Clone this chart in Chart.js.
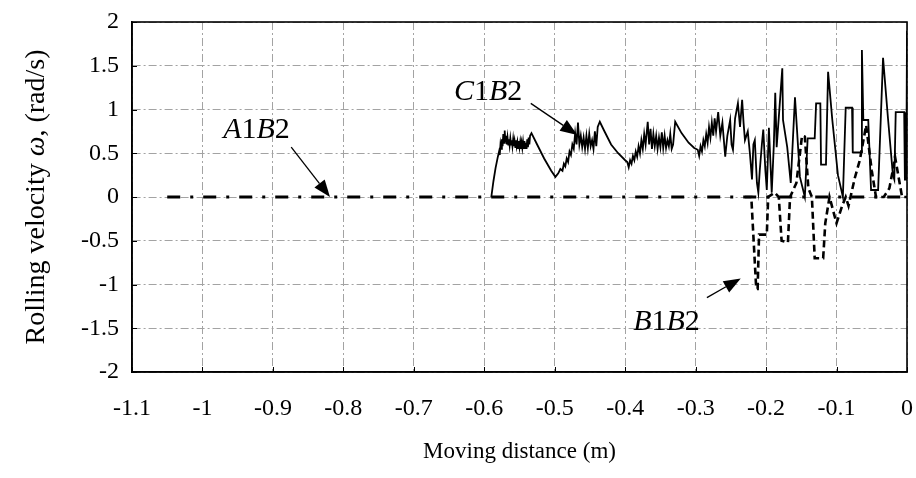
<!DOCTYPE html>
<html>
<head>
<meta charset="utf-8">
<script src="https://cdn.jsdelivr.net/npm/chart.js@4.4.0/dist/chart.umd.min.js"></script>
<style>
  html, body { margin: 0; padding: 0; background: #fff; }
  canvas { display: block; }
</style>
</head>
<body>
<canvas id="myChart" width="916" height="478"></canvas>
<script>
// axis ticks
const xTicks = [-1.1, -1, -0.9, -0.8, -0.7, -0.6, -0.5, -0.4, -0.3, -0.2, -0.1, 0];
const xTickLabels = ['-1.1', '-1', '-0.9', '-0.8', '-0.7', '-0.6', '-0.5', '-0.4', '-0.3', '-0.2', '-0.1', '0'];
const yTicks = [-2, -1.5, -1, -0.5, 0, 0.5, 1, 1.5, 2];
const yTickLabels = ['-2', '-1.5', '-1', '-0.5', '0', '0.5', '1', '1.5', '2'];

// A1B2 stays at zero
const a1b2X = [-1.05, 0];
const a1b2Y = [0, 0];

// C1B2 (solid)
const c1b2X = [
  -0.590, -0.587, -0.584, -0.581, -0.579, -0.578, -0.577, -0.576, -0.575, -0.574, -0.573, -0.572,
  -0.571, -0.570, -0.569, -0.568, -0.567, -0.566, -0.565, -0.564, -0.563, -0.562, -0.561, -0.560,
  -0.559, -0.558, -0.557, -0.556, -0.555, -0.554, -0.553, -0.552, -0.551, -0.550, -0.549, -0.548,
  -0.547, -0.546, -0.545, -0.544, -0.543, -0.542, -0.541, -0.540, -0.539, -0.538, -0.537, -0.536,
  -0.535, -0.533,
  -0.525, -0.515, -0.505, -0.499,
  -0.495, -0.492, -0.489, -0.487, -0.485, -0.483, -0.481, -0.479, -0.477, -0.475, -0.473, -0.471,
  -0.469, -0.467, -0.465, -0.463, -0.461, -0.459, -0.457, -0.455, -0.453, -0.451, -0.449, -0.447,
  -0.445, -0.443, -0.441, -0.439, -0.436,
  -0.430, -0.420, -0.410, -0.400,
  -0.397, -0.395, -0.393, -0.391, -0.389, -0.387, -0.385, -0.383, -0.381, -0.379, -0.377, -0.375,
  -0.373, -0.371, -0.368,
  -0.366, -0.364, -0.362, -0.360, -0.358, -0.356, -0.354, -0.352, -0.350, -0.348, -0.346, -0.344,
  -0.342, -0.340, -0.338, -0.336, -0.334, -0.332, -0.329,
  -0.320, -0.310, -0.302, -0.297, -0.295,
  -0.293, -0.291, -0.289, -0.287, -0.285, -0.283, -0.281, -0.279, -0.277, -0.275, -0.273, -0.271, -0.268,
  -0.265, -0.262, -0.258, -0.255, -0.251, -0.249, -0.247, -0.244, -0.240, -0.237, -0.234, -0.232,
  -0.230, -0.226, -0.223, -0.220, -0.218, -0.216, -0.213, -0.211, -0.209, -0.206, -0.204, -0.201,
  -0.199, -0.196, -0.192, -0.189, -0.187, -0.185,
  -0.177, -0.176, -0.170, -0.165, -0.159, -0.152, -0.145, -0.141, -0.131, -0.129, -0.123, -0.122,
  -0.115, -0.112, -0.106, -0.098, -0.091, -0.087, -0.078, -0.077, -0.065, -0.064, -0.062, -0.055,
  -0.051, -0.041, -0.034, -0.027, -0.020, -0.018, -0.016, -0.004, -0.003, -0.001, 0
];
const c1b2Y = [
  0, 0.18, 0.33, 0.45, 0.52, 0.48, 0.6, 0.55, 0.66, 0.58, 0.72, 0.62,
  0.76, 0.63, 0.7, 0.6, 0.68, 0.6, 0.66, 0.59, 0.67, 0.6, 0.65, 0.58,
  0.66, 0.58, 0.64, 0.57, 0.65, 0.58, 0.63, 0.56, 0.64, 0.57, 0.63, 0.55,
  0.62, 0.56, 0.63, 0.55, 0.64, 0.56, 0.62, 0.55, 0.66, 0.57, 0.68, 0.6,
  0.7, 0.73,
  0.6, 0.44, 0.3, 0.23,
  0.27, 0.32, 0.3, 0.38, 0.35, 0.44, 0.4, 0.52, 0.48, 0.6, 0.55, 0.73,
  0.6, 0.85, 0.6, 0.7, 0.57, 0.68, 0.55, 0.7, 0.56, 0.72, 0.58, 0.65,
  0.55, 0.75, 0.58, 0.8, 0.86,
  0.76, 0.6, 0.5, 0.42,
  0.4, 0.34, 0.42, 0.38, 0.47, 0.42, 0.52, 0.46, 0.58, 0.5, 0.65, 0.55,
  0.72, 0.6, 0.86,
  0.6, 0.78, 0.55, 0.72, 0.58, 0.7, 0.55, 0.68, 0.57, 0.74, 0.56, 0.7,
  0.56, 0.65, 0.58, 0.72, 0.55, 0.6, 0.86,
  0.73, 0.62, 0.56, 0.54, 0.47,
  0.58, 0.52, 0.65, 0.58, 0.72, 0.62, 0.8, 0.68, 0.85, 0.7, 0.9, 0.75, 0.97,
  0.7, 0.85, 0.46, 0.7, 0.88, 0.6, 0.54, 0.9, 1.07, 0.8, 1.11, 0.85,
  0.65, 0.75, 0.5, 0.2, 0.6, 0.65, 0.16, 0.05, 0.3, 0.6, 0.77, 0.3,
  0.08, 0.79, 0.05, 0.6, 1.19, 0.57,
  1.47, 0.88, 0.57, 0.16, 1.14, 0.23, 0, 0.67, 0.67, 1.07, 1.07, 0.37,
  0.37, 1.43, 0.88, 0.25, 0, 1.02, 1.02, 0.51, 0.51, 1.68, 0.88, 0.88,
  0.08, 0.08, 1.59, 0.9, 0.25, 0.2, 0.97, 0.97, 0.2, 0.2, 1.9
];

// B1B2 (dashed)
const b1b2X = [
  -0.230, -0.221, -0.217, -0.214, -0.212, -0.210, -0.199, -0.197, -0.188, -0.182, -0.178, -0.169,
  -0.166, -0.157, -0.149, -0.145, -0.140, -0.135, -0.131, -0.119, -0.116, -0.110, -0.100, -0.092,
  -0.087, -0.083, -0.074, -0.067, -0.058, -0.050, -0.044, -0.033, -0.025, -0.021, -0.017, -0.012,
  -0.007, 0
];
const b1b2Y = [
  0, 0, -0.6, -1.05, -1.05, -0.43, -0.43, 0, 0.05, 0, -0.5, -0.52,
  0, 0.16, 0.7, 0.69, 0.1, 0, -0.7, -0.7, -0.3, 0, -0.3, -0.1,
  0, -0.1, 0.22, 0.42, 0.82, 0.3, 0, 0, 0.1, 0.27, 0.46, 0.23,
  0, 0
];

const SERIF = '"Liberation Serif", "Times New Roman", serif';

// labels with arrows, in data units
const notes = [
  { parts: [['A', true], ['1', false], ['B', true], ['2', false]], tx: -0.876, ty: 0.77, from: [-0.874, 0.57], to: [-0.819, 0] },
  { parts: [['C', true], ['1', false], ['B', true], ['2', false]], tx: -0.546, ty: 1.2, from: [-0.534, 1.07], to: [-0.468, 0.71] },
  { parts: [['B', true], ['1', false], ['B', true], ['2', false]], tx: -0.294, ty: -1.43, from: [-0.284, -1.15], to: [-0.236, -0.93] }
];

const toPoints = (xs, ys) => xs.map((x, i) => ({ x: x, y: ys[i] }));

function richText(ctx, parts, x, y, size, align) {
  const widths = parts.map(p => {
    ctx.font = (p[1] ? 'italic ' : '') + size + 'px ' + SERIF;
    return ctx.measureText(p[0]).width;
  });
  const total = widths.reduce((a, b) => a + b, 0);
  let cx = align === 'right' ? x - total : (align === 'center' ? x - total / 2 : x);
  ctx.textAlign = 'left';
  ctx.textBaseline = 'middle';
  parts.forEach((p, i) => {
    ctx.font = (p[1] ? 'italic ' : '') + size + 'px ' + SERIF;
    ctx.fillText(p[0], cx, y);
    cx += widths[i];
  });
}

function arrow(ctx, x1, y1, x2, y2) {
  const ang = Math.atan2(y2 - y1, x2 - x1);
  const len = 17, hw = 6.5;
  const bx = x2 - len * Math.cos(ang), by = y2 - len * Math.sin(ang);
  ctx.beginPath();
  ctx.moveTo(x1, y1);
  ctx.lineTo(bx, by);
  ctx.lineWidth = 1.3;
  ctx.stroke();
  ctx.beginPath();
  ctx.moveTo(x2, y2);
  ctx.lineTo(bx + hw * Math.sin(ang), by - hw * Math.cos(ang));
  ctx.lineTo(bx - hw * Math.sin(ang), by + hw * Math.cos(ang));
  ctx.closePath();
  ctx.fill();
}

const decor = {
  id: 'decor',
  afterDraw(chart) {
    const ctx = chart.ctx;
    const a = chart.chartArea;
    const xs = chart.scales.x, ys = chart.scales.y;
    ctx.save();
    ctx.strokeStyle = '#000';
    ctx.fillStyle = '#000';
    ctx.setLineDash([]);

    // frame
    ctx.lineWidth = 1.6;
    ctx.strokeRect(a.left, a.top, a.right - a.left, a.bottom - a.top);

    // inward tick marks
    ctx.lineWidth = 1;
    ctx.beginPath();
    xTicks.forEach(v => {
      const px = Math.round(xs.getPixelForValue(v)) + 0.5;
      ctx.moveTo(px, a.bottom);
      ctx.lineTo(px, a.bottom - 5);
    });
    yTicks.forEach(v => {
      const py = Math.round(ys.getPixelForValue(v)) + 0.5;
      ctx.moveTo(a.left, py);
      ctx.lineTo(a.left + 5, py);
    });
    ctx.stroke();

    // axis titles
    richText(ctx, [['Moving distance (m)', false]], (a.left + a.right) / 2, 452, 23, 'center');
    ctx.save();
    ctx.translate(37, (a.top + a.bottom) / 2);
    ctx.rotate(-Math.PI / 2);
    richText(ctx, [['Rolling velocity ', false], ['\u03c9', true], [', (rad/s)', false]], 0, 0, 28, 'center');
    ctx.restore();

    // series labels
    notes.forEach(n => {
      richText(ctx, n.parts, xs.getPixelForValue(n.tx), ys.getPixelForValue(n.ty), 30, 'right');
      arrow(ctx, xs.getPixelForValue(n.from[0]), ys.getPixelForValue(n.from[1]),
        xs.getPixelForValue(n.to[0]), ys.getPixelForValue(n.to[1]));
    });
    ctx.restore();
  }
};

const gridStyle = { color: '#a3a3a3', lineWidth: 1, drawTicks: false };
const tickFont = { family: SERIF, size: 24 };

new Chart(document.getElementById('myChart').getContext('2d'), {
  type: 'line',
  data: {
    datasets: [
      {
        label: 'C1B2',
        data: toPoints(c1b2X, c1b2Y),
        borderColor: '#000',
        borderWidth: 1.8,
        pointRadius: 0,
        tension: 0,
        order: 1
      },
      {
        label: 'B1B2',
        data: toPoints(b1b2X, b1b2Y),
        borderColor: '#000',
        borderWidth: 2.6,
        borderDash: [7, 4],
        pointRadius: 0,
        tension: 0,
        order: 2
      },
      {
        label: 'A1B2',
        data: toPoints(a1b2X, a1b2Y),
        borderColor: '#000',
        borderWidth: 3,
        borderDash: [13, 10, 3, 10],
        pointRadius: 0,
        tension: 0,
        order: 3
      }
    ]
  },
  options: {
    responsive: false,
    animation: false,
    devicePixelRatio: 1,
    layout: { padding: { top: 22, right: 9, left: 0, bottom: 0 } },
    plugins: {
      legend: { display: false },
      tooltip: { enabled: false }
    },
    scales: {
      x: {
        type: 'linear',
        min: -1.1,
        max: 0,
        afterBuildTicks: s => { s.ticks = xTicks.map(v => ({ value: v })); },
        afterFit: s => { s.height = 106; s.paddingLeft = 0; s.paddingRight = 0; },
        grid: gridStyle,
        border: { display: true, color: '#000', width: 1.6, dash: [8, 3, 2, 3] },
        ticks: {
          color: '#000',
          font: tickFont,
          padding: 22,
          maxRotation: 0,
          autoSkip: false,
          callback: (v, i) => xTickLabels[i]
        }
      },
      y: {
        type: 'linear',
        min: -2,
        max: 2,
        afterBuildTicks: s => { s.ticks = yTicks.map(v => ({ value: v })); },
        afterFit: s => { s.width = 132; s.paddingTop = 0; s.paddingBottom = 0; },
        grid: gridStyle,
        border: { display: true, color: '#000', width: 1.6, dash: [8, 3, 2, 3] },
        ticks: {
          color: '#000',
          font: tickFont,
          padding: 13,
          autoSkip: false,
          callback: (v, i) => yTickLabels[i]
        }
      }
    }
  },
  plugins: [decor]
});
</script>
</body>
</html>
